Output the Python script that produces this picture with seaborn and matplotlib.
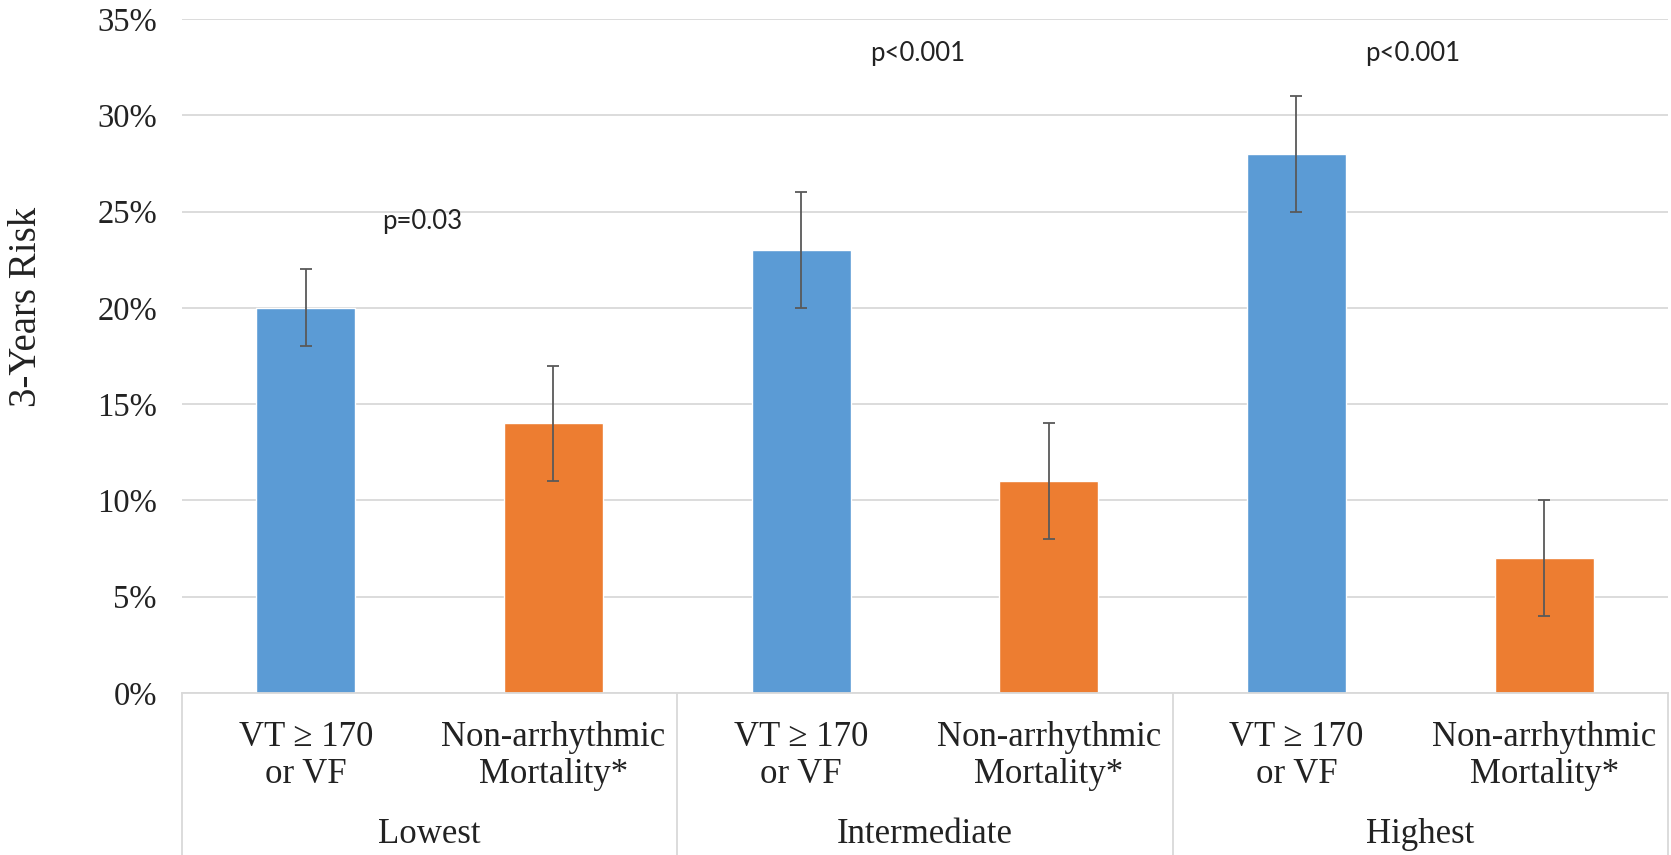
import matplotlib
matplotlib.use("Agg")
import matplotlib.pyplot as plt
from matplotlib.lines import Line2D
import seaborn as sns
import pandas as pd
import numpy as np

# Risk groups and outcome categories
groups = ["Lowest", "Intermediate", "Highest"]
outcomes = ["VT \u2265 170\nor VF", "Non-arrhythmic\nMortality*"]
series = ["VT", "NonArr"]

# 3-year risk (%) per group: VT>=170/VF and non-arrhythmic mortality
vt_risk = [20, 23, 28]
vt_low = [18, 20, 25]
vt_high = [22, 26, 31]
nonarr_risk = [14, 11, 7]
nonarr_low = [11, 8, 4]
nonarr_high = [17, 14, 10]

p_labels = ["p=0.03", "p<0.001", "p<0.001"]
p_heights = [24.5, 33.2, 33.2]

colors = {"VT": "#5B9BD5", "NonArr": "#ED7D31"}

rows = []
for g, name in enumerate(groups):
    rows.append(dict(key=f"{name}-VT", series="VT", risk=vt_risk[g],
                     lo=vt_low[g], hi=vt_high[g]))
    rows.append(dict(key=f"{name}-NonArr", series="NonArr", risk=nonarr_risk[g],
                     lo=nonarr_low[g], hi=nonarr_high[g]))
df = pd.DataFrame(rows)

sns.set_theme(style="white")
plt.rcParams["font.family"] = ["Liberation Serif", "DejaVu Serif"]

fig = plt.figure(figsize=(16.71, 8.55), dpi=100)
ax = fig.add_axes([0.1089, 0.1895, 0.8893, 0.7883])

sns.barplot(data=df, x="key", y="risk", hue="series", palette=colors,
            dodge=False, width=0.4, errorbar=None, legend=False,
            saturation=1.0, ax=ax)

xpos = np.arange(len(df))
ax.errorbar(xpos, df["risk"], yerr=[df["risk"] - df["lo"], df["hi"] - df["risk"]],
            fmt="none", ecolor="#595959", elinewidth=1.3, capsize=4.5,
            capthick=1.3, zorder=5)

ax.set_ylim(0, 35)
ax.set_xlim(-0.5, len(df) - 0.5)
ax.set_yticks(range(0, 36, 5))
ax.set_yticklabels([f"{v}%" for v in range(0, 36, 5)], fontsize=23.5,
                   color="#222222")
ax.tick_params(axis="y", length=0, pad=18)
ax.set_xticks([])
ax.set_xlabel("")
ax.set_ylabel("3-Years Risk", fontsize=28, color="#222222")
ax.yaxis.set_label_coords(-0.092, 0.573)
ax.yaxis.grid(True, color="#D9D9D9", linewidth=1.3)
ax.set_axisbelow(True)
for side in ["top", "right", "left"]:
    ax.spines[side].set_visible(False)
ax.spines["bottom"].set_color("#D9D9D9")
ax.spines["bottom"].set_linewidth(1.3)

# Two-level category axis below the plot
trans = ax.get_xaxis_transform()
for xb in [-0.5, 1.5, 3.5, 5.5]:
    ax.add_line(Line2D([xb, xb], [0, -0.3], transform=trans, color="#D9D9D9",
                       linewidth=1.3, clip_on=False))
for i in range(len(df)):
    ax.text(i, -0.093, outcomes[i % 2], transform=trans, ha="center",
            va="center", fontsize=25, color="#222222", linespacing=1.15)
for g, name in enumerate(groups):
    ax.text(2 * g + 0.5, -0.2105, name, transform=trans, ha="center",
            va="center", fontsize=25, color="#222222")

# Significance labels
for g in range(len(groups)):
    ax.text(2 * g + 0.47, p_heights[g], p_labels[g], ha="center",
            va="center", fontsize=18.5, family=["Lato", "DejaVu Sans"],
            color="#222222")

fig.savefig("out.png", dpi=100)
